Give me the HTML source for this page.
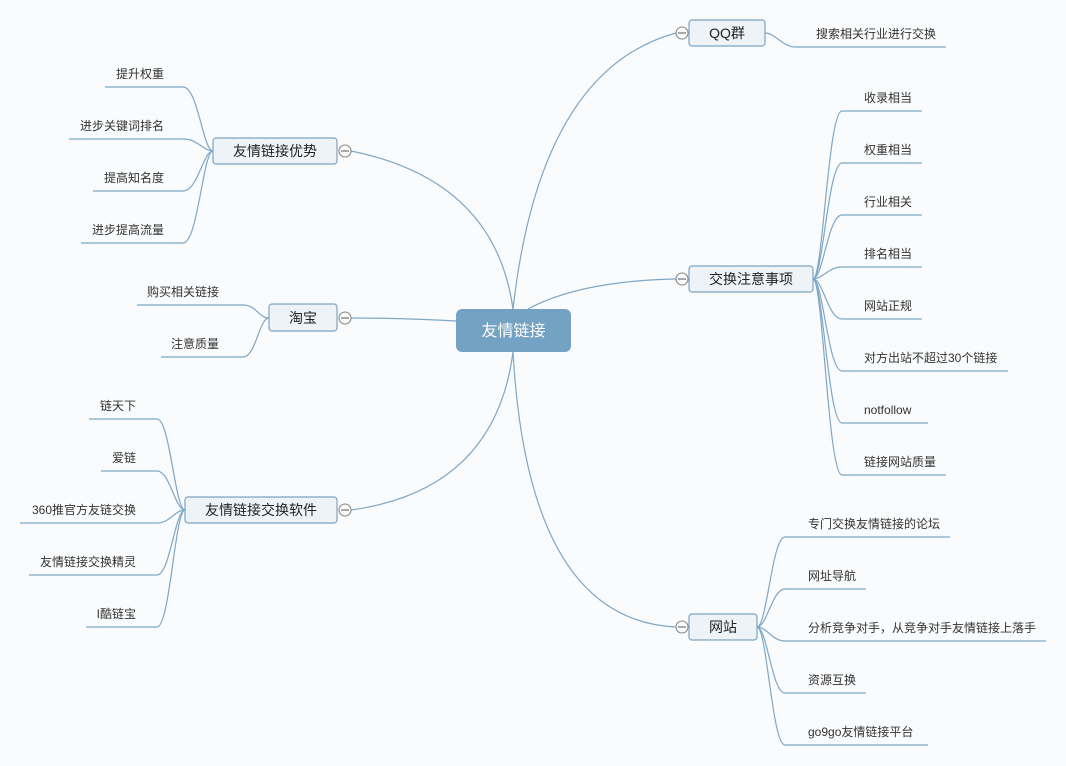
<!DOCTYPE html>
<html><head><meta charset="utf-8"><style>
html,body{margin:0;padding:0;background:#fafbfc;}
svg{display:block;}
text{font-family:"Liberation Sans","Noto Sans CJK SC",sans-serif;}
.c{font-size:12px;fill:#333;}
.n{font-size:14px;fill:#222;}
.ln{fill:none;stroke:#7ea7c6;stroke-width:1.2;}
.nd{fill:#eef3f7;stroke:#7ba3c3;stroke-width:1.2;}
.cir{fill:#fafafa;stroke:#888;stroke-width:1.1;}
.mn{stroke:#666;stroke-width:1.1;}
</style></head><body>
<svg width="1066" height="766" viewBox="0 0 1066 766" xmlns="http://www.w3.org/2000/svg">
<rect width="1066" height="766" fill="#fafbfc"/>

<!-- main connectors -->
<path class="ln" d="M513 309 Q495 180 351 151"/>
<path class="ln" d="M513 309 Q540 70 676 33"/>
<path class="ln" d="M528 309 Q580 281 676 279"/>
<path class="ln" d="M513 352 Q495 490 351 510"/>
<path class="ln" d="M513 352 Q528 620 676 627"/>
<path class="ln" d="M351 318 Q400 318 456 321"/>

<!-- central -->
<rect x="456" y="309" width="115" height="43" rx="6" fill="#74a2c2"/>
<text x="513.5" y="336" text-anchor="middle" style="font-size:16px;fill:#fff;">友情链接</text>

<!-- QQ群 -->
<path class="ln" d="M765 33 C775 33 783 47 795 47 L946 47"/>
<text class="c" x="816" y="38">搜索相关行业进行交换</text>
<rect class="nd" x="689" y="20" width="76" height="26" rx="3"/>
<text class="n" x="727" y="38" text-anchor="middle">QQ群</text>
<circle class="cir" cx="682" cy="33" r="6"/><line class="mn" x1="678" y1="33" x2="686" y2="33"/>

<!-- 交换注意事项 -->
<path class="ln" d="M813 279 C823 279 828 111 842 111 L922 111"/>
<path class="ln" d="M813 279 C823 279 828 163 842 163 L922 163"/>
<path class="ln" d="M813 279 C823 279 828 215 842 215 L922 215"/>
<path class="ln" d="M813 279 C823 279 828 267 842 267 L922 267"/>
<path class="ln" d="M813 279 C823 279 828 319 842 319 L922 319"/>
<path class="ln" d="M813 279 C823 279 828 371 842 371 L1008 371"/>
<path class="ln" d="M813 279 C823 279 828 423 842 423 L928 423"/>
<path class="ln" d="M813 279 C823 279 828 475 842 475 L946 475"/>
<text class="c" x="864" y="102">收录相当</text>
<text class="c" x="864" y="154">权重相当</text>
<text class="c" x="864" y="206">行业相关</text>
<text class="c" x="864" y="258">排名相当</text>
<text class="c" x="864" y="310">网站正规</text>
<text class="c" x="864" y="362">对方出站不超过30个链接</text>
<text class="c" x="864" y="414">notfollow</text>
<text class="c" x="864" y="466">链接网站质量</text>
<rect class="nd" x="689" y="266" width="124" height="26" rx="3"/>
<text class="n" x="751" y="284" text-anchor="middle">交换注意事项</text>
<circle class="cir" cx="682" cy="279" r="6"/><line class="mn" x1="678" y1="279" x2="686" y2="279"/>

<!-- 网站 -->
<path class="ln" d="M757 627 C767 627 772 537 785 537 L950 537"/>
<path class="ln" d="M757 627 C767 627 772 589 785 589 L866 589"/>
<path class="ln" d="M757 627 C767 627 772 641 785 641 L1046 641"/>
<path class="ln" d="M757 627 C767 627 772 693 785 693 L866 693"/>
<path class="ln" d="M757 627 C767 627 772 745 785 745 L928 745"/>
<text class="c" x="808" y="528">专门交换友情链接的论坛</text>
<text class="c" x="808" y="580">网址导航</text>
<text class="c" x="808" y="632">分析竞争对手，从竞争对手友情链接上落手</text>
<text class="c" x="808" y="684">资源互换</text>
<text class="c" x="808" y="736">go9go友情链接平台</text>
<rect class="nd" x="689" y="614" width="68" height="26" rx="3"/>
<text class="n" x="723" y="632" text-anchor="middle">网站</text>
<circle class="cir" cx="682" cy="627" r="6"/><line class="mn" x1="678" y1="627" x2="686" y2="627"/>

<!-- 友情链接优势 -->
<path class="ln" d="M213 151 C203 151 198 87 183 87 L105 87"/>
<path class="ln" d="M213 151 C203 151 198 139 183 139 L69 139"/>
<path class="ln" d="M213 151 C203 151 198 191 183 191 L93 191"/>
<path class="ln" d="M213 151 C203 151 198 243 183 243 L81 243"/>
<text class="c" x="164" y="78" text-anchor="end">提升权重</text>
<text class="c" x="164" y="130" text-anchor="end">进步关键词排名</text>
<text class="c" x="164" y="182" text-anchor="end">提高知名度</text>
<text class="c" x="164" y="234" text-anchor="end">进步提高流量</text>
<rect class="nd" x="213" y="138" width="124" height="26" rx="3"/>
<text class="n" x="275" y="156" text-anchor="middle">友情链接优势</text>
<circle class="cir" cx="345" cy="151" r="6"/><line class="mn" x1="341" y1="151" x2="349" y2="151"/>

<!-- 淘宝 -->
<path class="ln" d="M269 318 C259 318 256 305 243 305 L137 305"/>
<path class="ln" d="M269 318 C259 318 256 357 243 357 L161 357"/>
<text class="c" x="219" y="296" text-anchor="end">购买相关链接</text>
<text class="c" x="219" y="348" text-anchor="end">注意质量</text>
<rect class="nd" x="269" y="304" width="68" height="27" rx="3"/>
<text class="n" x="303" y="323" text-anchor="middle">淘宝</text>
<circle class="cir" cx="345" cy="318" r="6"/><line class="mn" x1="341" y1="318" x2="349" y2="318"/>

<!-- 友情链接交换软件 -->
<path class="ln" d="M185 510 C175 510 170 419 157 419 L89 419"/>
<path class="ln" d="M185 510 C175 510 170 471 157 471 L101 471"/>
<path class="ln" d="M185 510 C175 510 170 523 157 523 L20 523"/>
<path class="ln" d="M185 510 C175 510 170 575 157 575 L29 575"/>
<path class="ln" d="M185 510 C175 510 170 627 157 627 L86 627"/>
<text class="c" x="136" y="410" text-anchor="end">链天下</text>
<text class="c" x="136" y="462" text-anchor="end">爱链</text>
<text class="c" x="136" y="514" text-anchor="end">360推官方友链交换</text>
<text class="c" x="136" y="566" text-anchor="end">友情链接交换精灵</text>
<text class="c" x="136" y="618" text-anchor="end">I酷链宝</text>
<rect class="nd" x="185" y="497" width="152" height="26" rx="3"/>
<text class="n" x="261" y="515" text-anchor="middle">友情链接交换软件</text>
<circle class="cir" cx="345" cy="510" r="6"/><line class="mn" x1="341" y1="510" x2="349" y2="510"/>
</svg>
</body></html>
